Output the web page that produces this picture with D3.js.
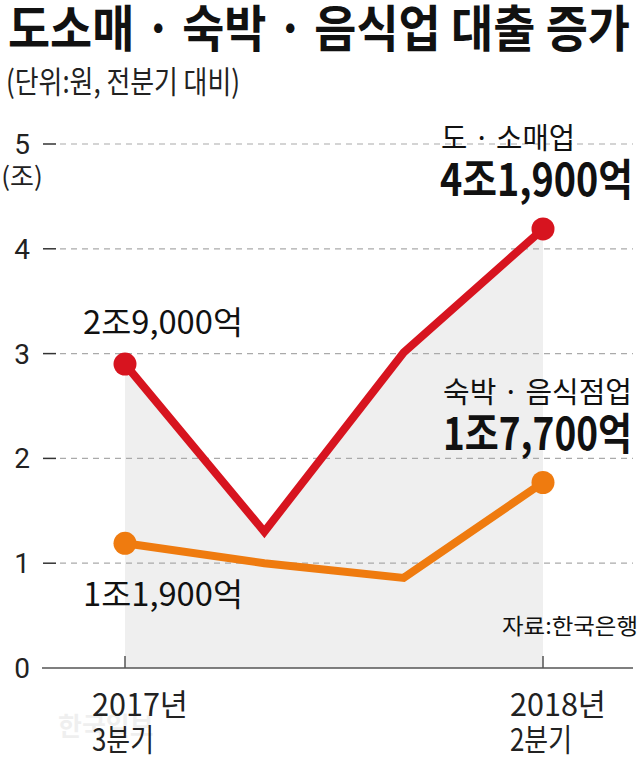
<!DOCTYPE html>
<html><head><meta charset="utf-8">
<script src="https://cdn.jsdelivr.net/npm/d3@7"></script>
<style>
body{margin:0;background:#fff;}
svg{display:block;font-family:"Noto Sans CJK KR","Noto Sans",sans-serif;}
</style></head>
<body><svg id="c" width="640" height="758"></svg>
<script>
const categories = ["2017년 3분기","2017년 4분기","2018년 1분기","2018년 2분기"];
const wholesale = [2.9, 1.3, 3.01, 4.19];     // 도·소매업 (조원)
const lodging = [1.19, 1.0, 0.86, 1.77];      // 숙박·음식점업 (조원)
const yTicks = [0,1,2,3,4,5];
const xLabels = [["2017년","3분기"],null,null,["2018년","2분기"]];

const svg = d3.select("#c");
const x = d3.scalePoint().domain(d3.range(categories.length)).range([125,543]);
const y = d3.scaleLinear().domain([0,5]).range([668,144]);

const red = "#d7141f", orange = "#ef7b0f";

// title
svg.append("text").attr("x",8).attr("y",47).attr("font-size",50).attr("font-weight",700)
  .attr("textLength",622).attr("lengthAdjust","spacingAndGlyphs").attr("fill","#111")
  .text("도소매 · 숙박 · 음식업 대출 증가");
svg.append("text").attr("x",6).attr("y",93).attr("font-size",31)
  .attr("textLength",234).attr("lengthAdjust","spacingAndGlyphs").attr("fill","#222")
  .text("(단위:원, 전분기 대비)");

// shaded area under red line
svg.append("path").datum(wholesale)
  .attr("d", d3.area().x((d,i)=>x(i)).y0(y(0)).y1(d=>y(d)))
  .attr("fill","#efefef");

// gridlines
const g = svg.append("g");
yTicks.filter(t=>t>0).forEach(t=>{
  g.append("line").attr("x1",60).attr("x2",633).attr("y1",y(t)).attr("y2",y(t))
    .attr("stroke","#aaa").attr("stroke-width",1.2).attr("stroke-dasharray","6,5");
});
// y axis labels + tick dashes
yTicks.forEach(t=>{
  if(t>0) g.append("line").attr("x1",43).attr("x2",56).attr("y1",y(t)).attr("y2",y(t))
    .attr("stroke","#333").attr("stroke-width",1.5);
  g.append("text").attr("x",22).attr("y",y(t)+10).attr("text-anchor","middle")
    .attr("font-size",28).attr("font-family","Roboto, 'Noto Sans', sans-serif").attr("fill","#222").text(t);
});
g.append("text").attr("x",22).attr("y",186).attr("text-anchor","middle").attr("font-size",26)
  .attr("fill","#222").text("(조)");

// baseline
svg.append("line").attr("x1",42).attr("x2",633).attr("y1",y(0)).attr("y2",y(0))
  .attr("stroke","#555").attr("stroke-width",1.5);
xLabels.forEach((lab,i)=>{
  if(!lab) return;
  svg.append("line").attr("x1",x(i)).attr("x2",x(i)).attr("y1",y(0)).attr("y2",y(0)-12)
    .attr("stroke","#555").attr("stroke-width",1.5);
  svg.append("text").attr("x",x(i)-33).attr("y",716).attr("font-size",31).attr("fill","#222")
    .attr("textLength",96).attr("lengthAdjust","spacingAndGlyphs").text(lab[0]);
  svg.append("text").attr("x",x(i)-33).attr("y",751).attr("font-size",31).attr("fill","#222")
    .attr("textLength",62).attr("lengthAdjust","spacingAndGlyphs").text(lab[1]);
});

// watermark
svg.append("text").attr("x",58).attr("y",736).attr("font-size",26).attr("font-weight",700)
  .attr("fill","#000").attr("opacity",0.06).text("한국일보");

// lines
const line = d3.line().x((d,i)=>x(i)).y(d=>y(d));
[[lodging,orange],[wholesale,red]].forEach(([data,col])=>{
  svg.append("path").datum(data).attr("d",line).attr("fill","none")
    .attr("stroke",col).attr("stroke-width",8).attr("stroke-linejoin","miter");
  [0,data.length-1].forEach(i=>{
    svg.append("circle").attr("cx",x(i)).attr("cy",y(data[i])).attr("r",11.5).attr("fill",col);
  });
});

// annotations
function label(tx,ty,txt,size,weight,len){
  svg.append("text").attr("x",tx).attr("y",ty).attr("font-size",size).attr("font-weight",weight)
    .attr("fill","#111").attr("textLength",len).attr("lengthAdjust","spacingAndGlyphs").text(txt);
}
label(441,149,"도 · 소매업",29,400,134);
label(440,196,"4조1,900억",44,700,193);
label(83,334,"2조9,000억",32,400,160);
label(443,403,"숙박 · 음식점업",29,400,189);
label(443,450,"1조7,700억",44,700,189);
label(83,606,"1조1,900억",32,400,160);
label(502,634,"자료:한국은행",22,400,136);
</script></body></html>
